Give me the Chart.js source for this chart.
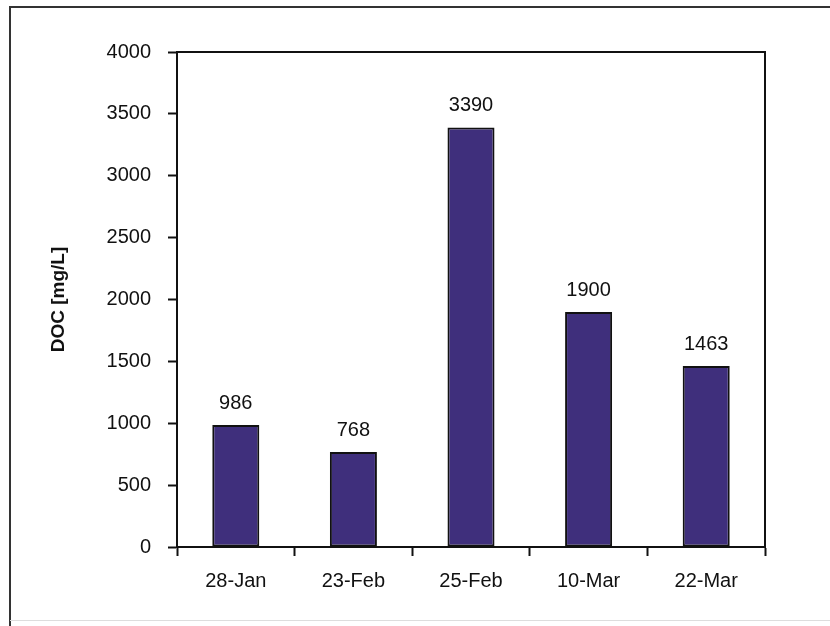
<!DOCTYPE html>
<html>
<head>
<meta charset="utf-8">
<script src="https://cdn.jsdelivr.net/npm/chart.js@4"></script>
<style>
body{margin:0;background:#fff;}
canvas{display:block;}
</style>
</head>
<body>
<canvas id="bar" width="830" height="626"></canvas>
<script>
/* ===== DATA ===== */
const dates = ["28-Jan","23-Feb","25-Feb","10-Mar","22-Mar"];
const docValues = [986,768,3390,1900,1463];
const yTicks = [0,500,1000,1500,2000,2500,3000,3500,4000];

const FONT = "'Liberation Sans', Arial, sans-serif";

/* frame + plot box */
const framePlugin = {
  id:"frame",
  beforeDraw(chart){
    const ctx = chart.ctx;
    ctx.save();
    ctx.fillStyle = "#fff";
    ctx.fillRect(0,0,chart.width,chart.height);
    ctx.strokeStyle = "#333";
    ctx.lineWidth = 2;
    ctx.beginPath();
    ctx.moveTo(10,626);
    ctx.lineTo(10,7);
    ctx.lineTo(830,7);
    ctx.stroke();
    ctx.strokeStyle = "#ddd";
    ctx.lineWidth = 1;
    ctx.beginPath();
    ctx.moveTo(10,620.5);
    ctx.lineTo(830,620.5);
    ctx.stroke();
    ctx.restore();
  },
  afterDraw(chart){
    const a = chart.chartArea;
    const ctx = chart.ctx;
    ctx.save();
    ctx.strokeStyle = "#111";
    ctx.lineWidth = 2;
    ctx.beginPath();
    ctx.moveTo(a.left, a.top);
    ctx.lineTo(a.right, a.top);
    ctx.lineTo(a.right, a.bottom);
    ctx.stroke();
    ctx.restore();
  }
};

/* value labels above bars */
const valueLabels = {
  id:"valueLabels",
  afterDatasetsDraw(chart){
    const ctx = chart.ctx;
    const meta = chart.getDatasetMeta(0);
    ctx.save();
    ctx.fillStyle = "#111";
    ctx.font = "20px " + FONT;
    ctx.textAlign = "center";
    ctx.textBaseline = "alphabetic";
    meta.data.forEach((el,i)=>{
      ctx.fillText(String(docValues[i]), el.x, el.y - 16);
    });
    ctx.restore();
  }
};

new Chart(document.getElementById("bar"),{
  type:"bar",
  data:{
    labels:dates,
    datasets:[{
      data:docValues,
      backgroundColor:"#3f2f7c",
      borderColor:"#111",
      borderWidth:2,
      borderSkipped:false,
      barPercentage:0.4,
      categoryPercentage:1
    }]
  },
  options:{
    responsive:false,
    animation:false,
    layout:{padding:{left:0,top:52,right:65,bottom:0}},
    plugins:{legend:{display:false},tooltip:{enabled:false}},
    scales:{
      x:{
        grid:{display:true,drawOnChartArea:false,drawTicks:true,tickLength:9,tickColor:"#111",tickWidth:2,offset:true},
        border:{display:true,color:"#111",width:2},
        ticks:{color:"#111",font:{family:FONT,size:20},padding:13,maxRotation:0},
        afterFit(scale){ scale.height = 79; }
      },
      y:{
        min:0,max:4000,
        afterBuildTicks(scale){ scale.ticks = yTicks.map(v=>({value:v})); },
        grid:{display:true,drawOnChartArea:false,drawTicks:true,tickLength:9,tickColor:"#111",tickWidth:2},
        border:{display:true,color:"#111",width:2},
        ticks:{color:"#111",font:{family:FONT,size:20},padding:17,callback:v=>String(v)},
        title:{display:true,text:"DOC [mg/L]",color:"#111",font:{family:FONT,size:19,weight:"bold"},padding:{top:47,bottom:0}},
        afterFit(scale){ scale.width = 177; }
      }
    }
  },
  plugins:[framePlugin,valueLabels]
});
</script>
</body>
</html>
